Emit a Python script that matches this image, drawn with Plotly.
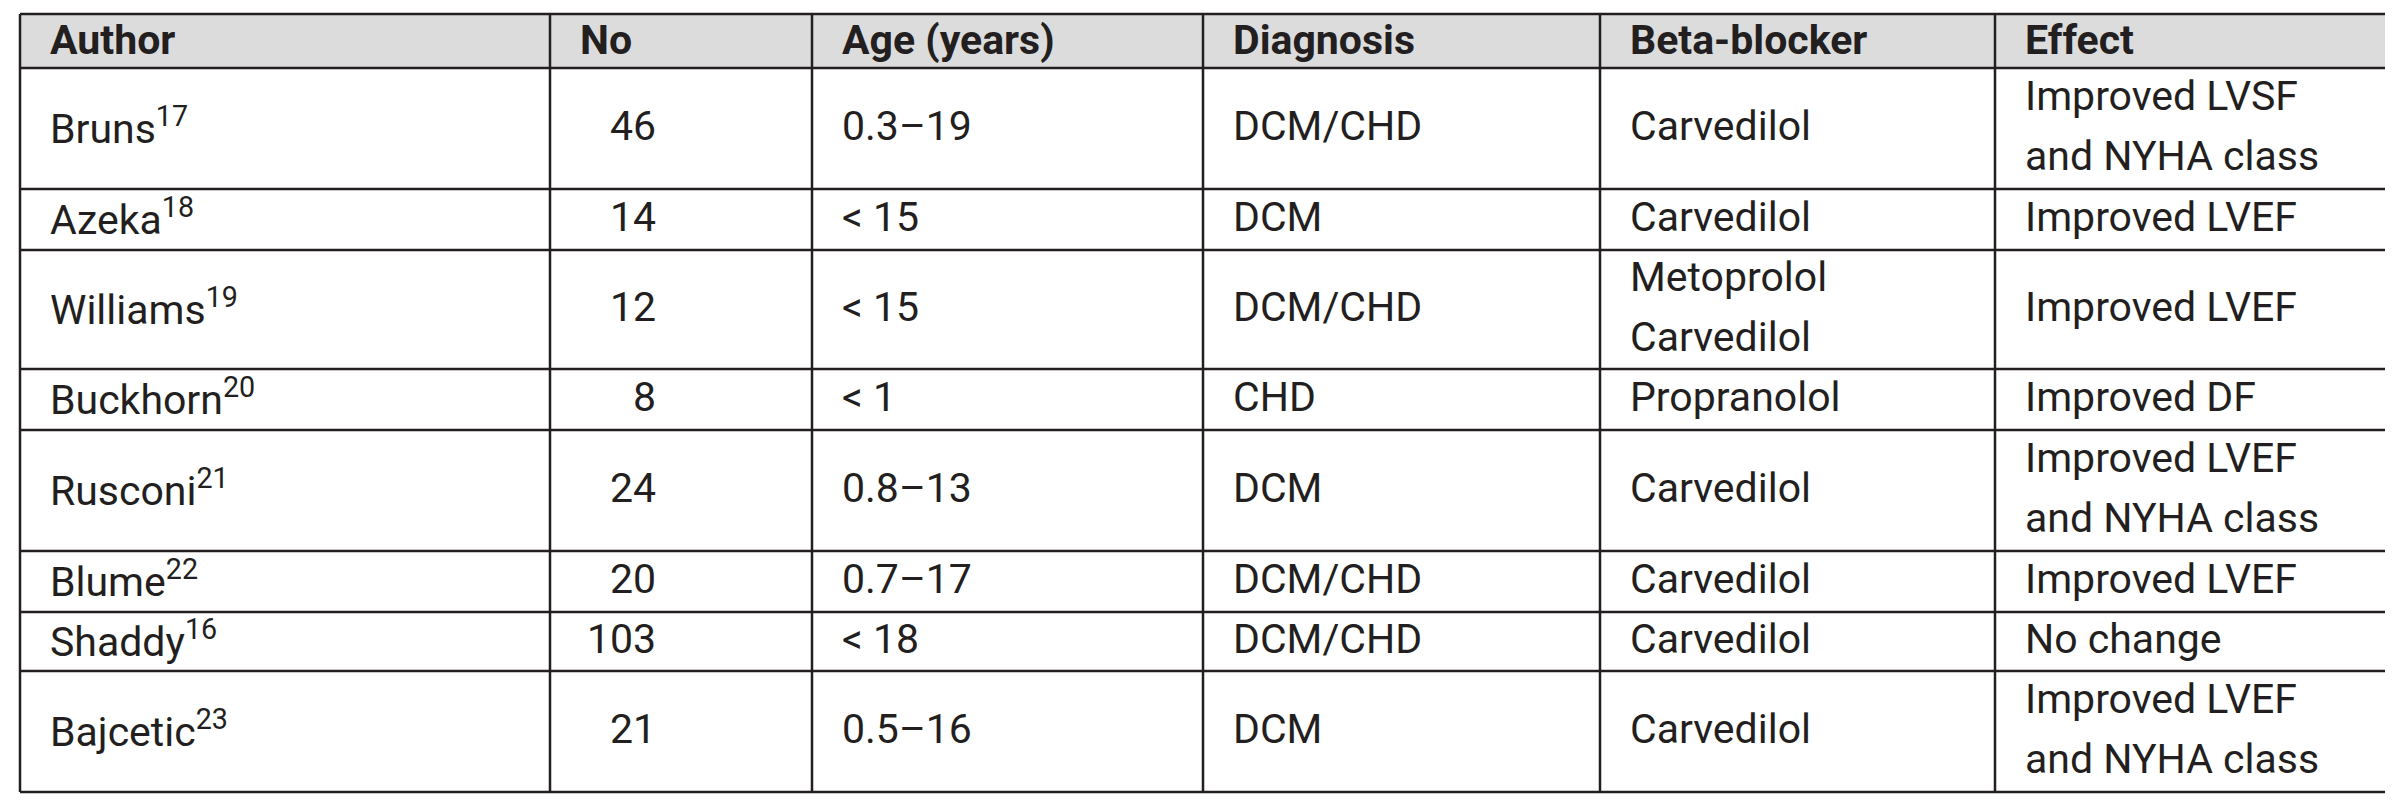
import plotly.graph_objects as go

headers = ["Author", "No", "Age (years)", "Diagnosis", "Beta-blocker", "Effect"]
authors = ["Bruns", "Azeka", "Williams", "Buckhorn", "Rusconi", "Blume", "Shaddy", "Bajcetic"]
refs = ["17", "18", "19", "20", "21", "22", "16", "23"]
numbers = [46, 14, 12, 8, 24, 20, 103, 21]
ages = ["0.3–19", "< 15", "< 15", "< 1", "0.8–13", "0.7–17", "< 18", "0.5–16"]
diagnoses = ["DCM/CHD", "DCM", "DCM/CHD", "CHD", "DCM", "DCM/CHD", "DCM/CHD", "DCM"]
blockers = ["Carvedilol", "Carvedilol", "Metoprolol|Carvedilol", "Propranolol", "Carvedilol",
            "Carvedilol", "Carvedilol", "Carvedilol"]
effects = ["Improved LVSF|and NYHA class", "Improved LVEF", "Improved LVEF", "Improved DF",
           "Improved LVEF|and NYHA class", "Improved LVEF", "No change",
           "Improved LVEF|and NYHA class"]

# layout (pixels)
col_edges = [12, 542, 804, 1195, 1592, 1987, 2388]
row_edges = [6, 60, 181, 242, 361, 422, 543, 604, 663, 784]
FONT = "Roboto, Liberation Sans, sans-serif"
FS = 41
LINE = 60
PAD = 28
ink = "#231f20"

fig = go.Figure()
shapes = []
ann = []

# header background
shapes.append(dict(type="rect", x0=col_edges[0], x1=col_edges[-1], y0=row_edges[0], y1=row_edges[1],
                   fillcolor="#dcdcdd", line=dict(width=0), layer="below"))
for y in row_edges:
    shapes.append(dict(type="line", x0=col_edges[0], x1=col_edges[-1], y0=y, y1=y,
                       line=dict(color=ink, width=2.5)))
for x in col_edges:
    shapes.append(dict(type="line", x0=x, x1=x, y0=row_edges[0], y1=row_edges[-1],
                       line=dict(color=ink, width=2.5)))

def add_text(txt, x, yc, anchor="left", bold=False):
    lines = txt.split("|")
    n = len(lines)
    for i, ln in enumerate(lines):
        y = yc + (i - (n - 1) / 2) * LINE - 3
        ann.append(dict(x=x, y=y, text=("<b>%s</b>" % ln) if bold else ln, showarrow=False,
                        xanchor=anchor, yanchor="middle", xref="x", yref="y",
                        font=dict(family=FONT, size=FS, color=ink)))

hy = (row_edges[0] + row_edges[1]) / 2
for j, h in enumerate(headers):
    add_text(h, col_edges[j] + PAD, hy + 2, bold=True)

for i in range(len(authors)):
    yc = (row_edges[i + 1] + row_edges[i + 2]) / 2
    add_text(authors[i] + "<sup>" + refs[i] + "</sup>", col_edges[0] + PAD, yc)
    add_text(str(numbers[i]), col_edges[1] + 108, yc, anchor="right")
    add_text(ages[i], col_edges[2] + PAD, yc)
    add_text(diagnoses[i], col_edges[3] + PAD, yc)
    add_text(blockers[i], col_edges[4] + PAD, yc)
    add_text(effects[i], col_edges[5] + PAD, yc)

fig.update_layout(
    width=2393, height=800, margin=dict(l=0, r=0, t=0, b=0),
    paper_bgcolor="white", plot_bgcolor="white",
    xaxis=dict(range=[0, 2393], visible=False, fixedrange=True),
    yaxis=dict(range=[800, 0], visible=False, fixedrange=True),
    shapes=shapes, annotations=ann, showlegend=False,
)
fig.write_html("out.html")
